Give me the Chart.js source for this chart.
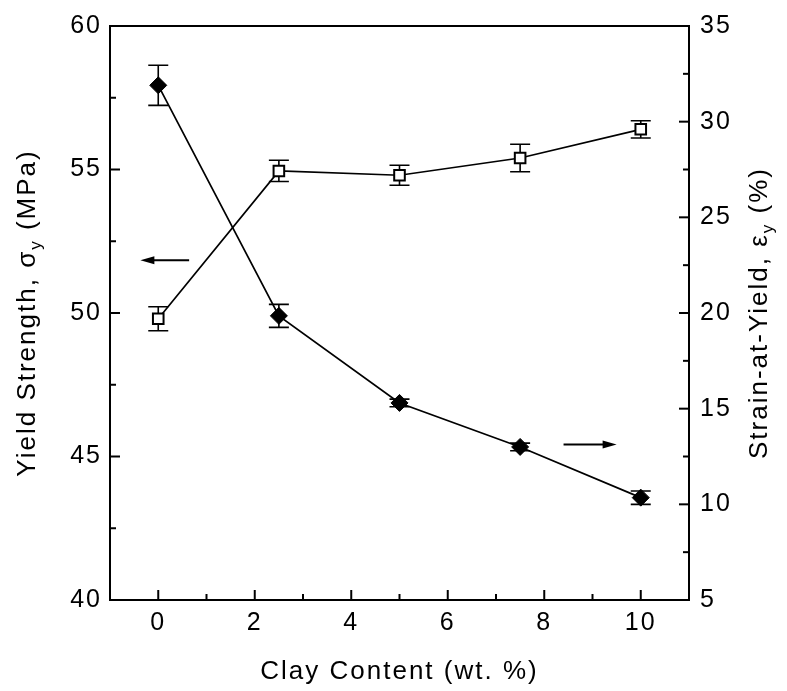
<!DOCTYPE html>
<html>
<head>
<meta charset="utf-8">
<script src="https://cdn.jsdelivr.net/npm/chart.js@4/dist/chart.umd.min.js"></script>
<style>
  html, body { margin: 0; padding: 0; background: #fff; }
  #wrap { width: 787px; height: 691px; }
</style>
</head>
<body>
<div id="wrap"><canvas id="chart1"></canvas></div>
<script>
const clay = [0, 2.5, 5, 7.5, 10]
const strength = [49.8, 54.95, 54.8, 55.4, 56.4]
const strengthErr = [0.42, 0.37, 0.35, 0.48, 0.3]
const strain = [31.9, 19.85, 15.3, 13.0, 10.35]
const strainErr = [1.05, 0.6, 0.2, 0.2, 0.35]

const xTicks = [0, 2, 4, 6, 8, 10]
const xMinor = [1, 3, 5, 7, 9]
const leftTicks = [40, 45, 50, 55, 60]
const leftMinor = [42.5, 47.5, 52.5, 57.5]
const rightTicks = [5, 10, 15, 20, 25, 30, 35]
const rightMinor = [7.5, 12.5, 17.5, 22.5, 27.5, 32.5]

// arrows telling which axis each curve belongs to: [x from, x to, y]
const leftArrow = [0.64, -0.37, 51.84]
const rightArrow = [8.4, 9.5, 13.13]

const font = "'Liberation Sans', Arial, sans-serif"


const drawTitle = (ctx, parts, cx, cy, rot) => {
  ctx.save()
  ctx.translate(cx, cy)
  ctx.rotate(rot)
  ctx.letterSpacing = '2px'
  ctx.fillStyle = '#000'
  ctx.textBaseline = 'middle'
  ctx.textAlign = 'left'
  let w = 0
  parts.forEach(p => { ctx.font = p[1] + 'px ' + font; w += ctx.measureText(p[0]).width })
  let x = -w / 2
  parts.forEach(p => {
    ctx.font = p[1] + 'px ' + font
    ctx.fillText(p[0], x, p[2])
    x += ctx.measureText(p[0]).width
  })
  ctx.restore()
}

const decor = {
  id: 'decor',
  beforeDraw(chart) {
    chart.ctx.letterSpacing = '2px'
  },
  beforeDatasetsDraw(chart) {
    const { ctx, scales } = chart
    ctx.save()
    ctx.strokeStyle = '#000'
    ctx.lineWidth = 1.6
    const bars = (vals, errs, ys) => {
      clay.forEach((c, i) => {
        const x = scales.x.getPixelForValue(c)
        const y1 = ys.getPixelForValue(vals[i] - errs[i])
        const y2 = ys.getPixelForValue(vals[i] + errs[i])
        ctx.beginPath()
        ctx.moveTo(x, y1); ctx.lineTo(x, y2)
        ctx.moveTo(x - 10, y1); ctx.lineTo(x + 10, y1)
        ctx.moveTo(x - 10, y2); ctx.lineTo(x + 10, y2)
        ctx.stroke()
      })
    }
    bars(strength, strengthErr, scales.yL)
    bars(strain, strainErr, scales.yR)
    ctx.restore()
  },
  afterDraw(chart) {
    const { ctx, scales, chartArea } = chart
    const { left, right, top, bottom } = chartArea
    ctx.save()
    ctx.strokeStyle = '#000'
    ctx.fillStyle = '#000'
    ctx.lineWidth = 2
    ctx.strokeRect(left, top, right - left, bottom - top)

    const tick = (scale, vals, len) => {
      vals.forEach(v => {
        const p = scale.getPixelForValue(v)
        ctx.beginPath()
        if (scale.axis === 'x') { ctx.moveTo(p, bottom); ctx.lineTo(p, bottom - len) }
        else if (scale.position === 'left') { ctx.moveTo(left, p); ctx.lineTo(left + len, p) }
        else { ctx.moveTo(right, p); ctx.lineTo(right - len, p) }
        ctx.stroke()
      })
    }
    tick(scales.x, xTicks, 10)
    tick(scales.x, xMinor, 6)
    tick(scales.yL, leftTicks, 10)
    tick(scales.yL, leftMinor, 6)
    tick(scales.yR, rightTicks, 10)
    tick(scales.yR, rightMinor, 6)

    const arrow = (a, ys) => {
      const x1 = scales.x.getPixelForValue(a[0])
      const x2 = scales.x.getPixelForValue(a[1])
      const y = ys.getPixelForValue(a[2])
      const d = Math.sign(x2 - x1)
      ctx.lineWidth = 2
      ctx.beginPath()
      ctx.moveTo(x1, y); ctx.lineTo(x2 - d * 8, y)
      ctx.stroke()
      ctx.beginPath()
      ctx.moveTo(x2, y)
      ctx.lineTo(x2 - d * 14, y - 4)
      ctx.lineTo(x2 - d * 14, y + 4)
      ctx.closePath()
      ctx.fill()
    }
    arrow(leftArrow, scales.yL)
    arrow(rightArrow, scales.yR)
    ctx.restore()

    drawTitle(ctx, [['Yield Strength, σ', 26, 0], ['y', 17, 8], [' (MPa)', 26, 0]], 28, (top + bottom) / 2, -Math.PI / 2)
    drawTitle(ctx, [['Strain-at-Yield, ε', 26, 0], ['y', 17, 8], [' (%)', 26, 0]], 760, (top + bottom) / 2, -Math.PI / 2)
    drawTitle(ctx, [['Clay Content (wt. %)', 26, 0]], (left + right) / 2, 672, 0)
  }
}

const data = {
  datasets: [{
    data: clay.map((c, i) => ({ x: c, y: strength[i] })),
    yAxisID: 'yL',
    borderColor: '#000',
    borderWidth: 1.7,
    pointStyle: 'rect',
    pointRadius: 7.5,
    pointBackgroundColor: '#fff',
    pointBorderColor: '#000',
    pointBorderWidth: 2
  }, {
    data: clay.map((c, i) => ({ x: c, y: strain[i] })),
    yAxisID: 'yR',
    borderColor: '#000',
    borderWidth: 1.7,
    pointStyle: 'rectRot',
    pointRadius: 8.5,
    pointBackgroundColor: '#000',
    pointBorderColor: '#000',
    pointBorderWidth: 1
  }]
}

const tickFont = { family: font, size: 25 }

const options = {
  responsive: true,
  maintainAspectRatio: false,
  animation: false,
  layout: { padding: { top: 20, left: 0, right: 0, bottom: 0 } },
  plugins: {
    legend: { display: false },
    tooltip: { enabled: false }
  },
  scales: {
    x: {
      type: 'linear',
      min: -1,
      max: 11,
      afterBuildTicks: s => { s.ticks = xTicks.map(v => ({ value: v })) },
      afterFit: s => { s.height = 91 },
      grid: { display: false, drawTicks: false },
      border: { display: false },
      ticks: { color: '#000', font: tickFont, padding: 8, maxRotation: 0, autoSkip: false }
    },
    yL: {
      position: 'left',
      min: 40,
      max: 60,
      afterBuildTicks: s => { s.ticks = leftTicks.map(v => ({ value: v })) },
      afterFit: s => { s.width = 110 },
      grid: { display: false, drawTicks: false },
      border: { display: false },
      ticks: { color: '#000', font: tickFont, padding: 8 }
    },
    yR: {
      position: 'right',
      min: 5,
      max: 35,
      afterBuildTicks: s => { s.ticks = rightTicks.map(v => ({ value: v })) },
      afterFit: s => { s.width = 98 },
      grid: { display: false, drawTicks: false },
      border: { display: false },
      ticks: { color: '#000', font: tickFont, padding: 11 }
    }
  }
}

new Chart('chart1', {
  type: 'line',
  data,
  options,
  plugins: [decor]
})
</script>
</body>
</html>
